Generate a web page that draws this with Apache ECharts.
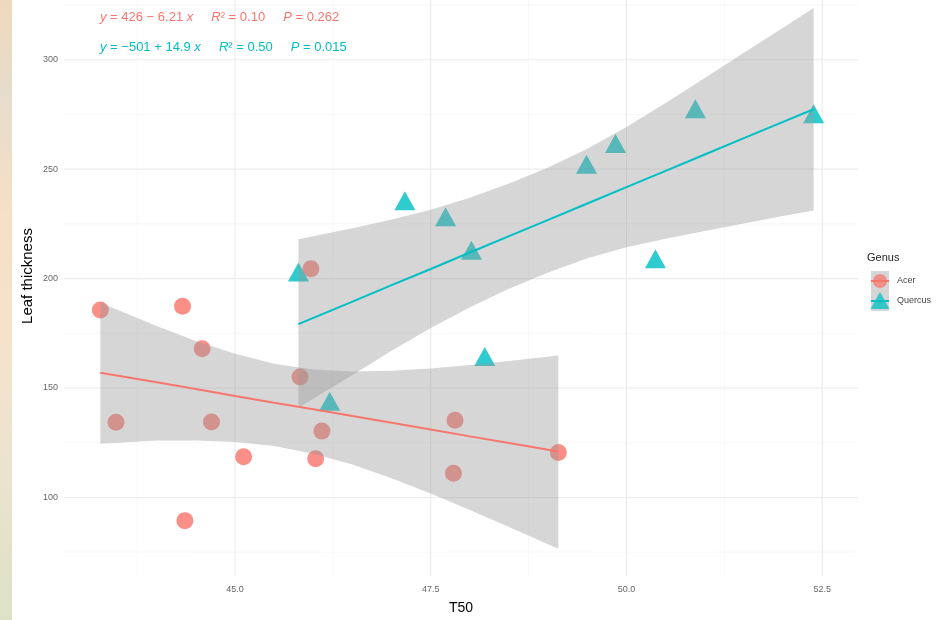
<!DOCTYPE html>
<html>
<head>
<meta charset="utf-8">
<script src="https://cdn.jsdelivr.net/npm/echarts@6/dist/echarts.min.js"></script>
<style>html,body{margin:0;padding:0;background:#fff;}#chart{width:951px;height:620px;}</style>
</head>
<body>
<div id="chart"></div>
<script>
// ---------- data ----------
const acerX = [43.28, 44.33, 44.58, 45.83, 43.48, 44.70, 46.11, 45.11, 46.03, 44.36, 45.97, 47.81, 47.79, 49.13];
const acerY = [185.6, 187.4, 167.9, 155.0, 134.4, 134.5, 130.3, 118.6, 117.7, 89.4, 204.5, 135.3, 111.0, 120.5];
const quercusX = [45.81, 47.17, 47.69, 48.02, 48.19, 46.21, 49.49, 49.86, 50.88, 52.39, 50.37];
const quercusY = [203.0, 235.6, 228.3, 212.9, 164.4, 143.9, 252.3, 261.7, 277.6, 275.3, 209.1];

// fitted lines and 95% confidence ribbons
const acerBandX = [43.28, 44.0, 44.5, 45.0, 45.5, 46.0, 46.5, 47.0, 47.5, 48.0, 48.5, 49.13];
const acerFit   = [157.0, 152.6, 149.5, 146.4, 143.3, 140.3, 137.2, 134.1, 131.0, 127.9, 124.9, 121.0];
const acerLower = [124.5, 126.0, 126.0, 125.3, 123.5, 120.0, 115.0, 108.8, 101.8, 94.3, 86.5, 76.5];
const acerUpper = [189.0, 178.3, 171.5, 165.6, 161.1, 158.5, 157.6, 157.9, 158.9, 160.5, 162.3, 164.9];

const quercusBandX = [45.81, 46.5, 47.0, 47.5, 48.0, 48.5, 49.0, 49.5, 50.0, 50.5, 51.0, 51.5, 52.0, 52.39];
const quercusFit   = [179.2, 189.5, 197.0, 204.4, 211.9, 219.4, 226.8, 234.3, 241.8, 249.2, 256.7, 264.2, 271.6, 277.4];
const quercusLower = [141.0, 156.0, 167.0, 177.4, 186.9, 195.4, 202.8, 209.3, 214.3, 218.2, 221.7, 225.2, 228.6, 231.1];
const quercusUpper = [218.0, 223.0, 227.0, 231.4, 236.9, 243.4, 250.8, 259.3, 269.3, 280.2, 291.7, 303.2, 314.6, 323.7];

const xTicks = [45, 47.5, 50, 52.5];
const xMinorTicks = [43.75, 46.25, 48.75, 51.25];
const yTicks = [100, 150, 200, 250, 300];
const yMinorTicks = [75, 125, 175, 225, 275, 325];

const groups = ['Acer', 'Quercus'];
const eqAcer = ['426', '6.21', '0.10', '0.262'];
const eqQuercus = ['501', '14.9', '0.50', '0.015'];

// ---------- chart ----------
const X_MIN = 42.816, X_MAX = 52.957, Y_MIN = 64.1, Y_MAX = 327.3;
const RED = '#F8766D', CYAN = '#00BFC4';
const FONT = '"Liberation Sans", Arial, sans-serif';

const chart = echarts.init(document.getElementById('chart'), null, {renderer: 'canvas'});

function gridSeries(values, isY, major) {
  return {
    type: 'custom', silent: true, z: 0,
    data: values.map(v => isY ? [X_MIN, v] : [v, Y_MIN]),
    renderItem: function (params, api) {
      const cs = params.coordSys;
      const p = api.coord([api.value(0), api.value(1)]);
      const shape = isY ? {x1: cs.x, y1: p[1], x2: cs.x + cs.width, y2: p[1]}
                        : {x1: p[0], y1: cs.y, x2: p[0], y2: cs.y + cs.height};
      return {type: 'line', shape: shape,
        style: {stroke: major ? '#EBEBEB' : '#F3F3F3', lineWidth: major ? 1.1 : 0.6}};
    }
  };
}

function ribbonSeries(xs, lo, up) {
  const data = xs.map((x, i) => [x, lo[i], up[i]]);
  return {
    type: 'custom', silent: true, z: 2,
    data: data,
    encode: {x: 0, y: [1, 2]},
    renderItem: function (params, api) {
      if (params.dataIndex !== 0) return null;
      const pts = [];
      for (let i = 0; i < data.length; i++) pts.push(api.coord([data[i][0], data[i][1]]));
      for (let i = data.length - 1; i >= 0; i--) pts.push(api.coord([data[i][0], data[i][2]]));
      return {type: 'polygon', shape: {points: pts}, style: {fill: 'rgba(153,153,153,0.4)'}};
    }
  };
}

const eqRich = function (color) {
  return {
    n: {fill: color, font: '13px ' + FONT},
    i: {fill: color, font: 'italic 13px ' + FONT}
  };
};

const option = {
  backgroundColor: '#ffffff',
  animation: false,
  grid: {left: 64, right: 93, top: 0, bottom: 41, containLabel: false},
  xAxis: {
    type: 'value', min: X_MIN, max: X_MAX,
    name: 'T50', nameLocation: 'middle', nameGap: 25,
    nameTextStyle: {fontFamily: FONT, fontSize: 14, color: '#000'},
    axisLine: {show: false}, axisTick: {show: false}, splitLine: {show: false},
    axisLabel: {customValues: xTicks, formatter: v => v.toFixed(1), fontFamily: FONT, fontSize: 9, color: '#666', margin: 9}
  },
  yAxis: {
    type: 'value', min: Y_MIN, max: Y_MAX,
    axisLine: {show: false}, axisTick: {show: false}, splitLine: {show: false},
    axisLabel: {customValues: yTicks, formatter: v => String(v), fontFamily: FONT, fontSize: 9, color: '#666', margin: 6}
  },
  series: [
    gridSeries(yMinorTicks, true, false),
    gridSeries(xMinorTicks, false, false),
    gridSeries(yTicks, true, true),
    gridSeries(xTicks, false, true),
    {
      type: 'scatter', name: groups[0], z: 1, symbol: 'circle', symbolSize: 17,
      data: acerX.map((x, i) => [x, acerY[i]]),
      itemStyle: {color: RED, opacity: 0.82}
    },
    {
      type: 'scatter', name: groups[1], z: 1, symbol: 'triangle', symbolSize: [21, 19],
      data: quercusX.map((x, i) => [x, quercusY[i]]),
      itemStyle: {color: CYAN, opacity: 0.82}
    },
    ribbonSeries(acerBandX, acerLower, acerUpper),
    ribbonSeries(quercusBandX, quercusLower, quercusUpper),
    {
      type: 'line', z: 3, showSymbol: false, symbol: 'none', silent: true,
      data: acerBandX.map((x, i) => [x, acerFit[i]]),
      lineStyle: {color: RED, width: 2}
    },
    {
      type: 'line', z: 3, showSymbol: false, symbol: 'none', silent: true,
      data: quercusBandX.map((x, i) => [x, quercusFit[i]]),
      lineStyle: {color: CYAN, width: 2}
    }
  ],
  graphic: [
    {
      type: 'rect', left: 0, top: 0, z: 100, silent: true,
      shape: {width: 12, height: 620},
      style: {fill: new echarts.graphic.LinearGradient(0, 0, 0, 1, [
        {offset: 0, color: '#EFD9BC'}, {offset: 0.15, color: '#E6DCCB'},
        {offset: 0.35, color: '#F6E0C6'}, {offset: 0.55, color: '#F4E2CB'},
        {offset: 0.75, color: '#ECE3CE'}, {offset: 1, color: '#DDE2C6'}])}
    },
    {
      type: 'text', x: 100, y: 17, z: 100, silent: true,
      style: {
        text: '{i|y}{n| = ' + eqAcer[0] + ' \u2212 ' + eqAcer[1] + ' }{i|x}{n|     }{i|R}{n|\u00B2 = ' + eqAcer[2] + '     }{i|P}{n| = ' + eqAcer[3] + '}',
        verticalAlign: 'middle', rich: eqRich(RED)
      }
    },
    {
      type: 'text', x: 100, y: 47, z: 100, silent: true,
      style: {
        text: '{i|y}{n| = \u2212' + eqQuercus[0] + ' + ' + eqQuercus[1] + ' }{i|x}{n|     }{i|R}{n|\u00B2 = ' + eqQuercus[2] + '     }{i|P}{n| = ' + eqQuercus[3] + '}',
        verticalAlign: 'middle', rich: eqRich(CYAN)
      }
    },
    {
      type: 'text', x: 28, y: 276, rotation: Math.PI / 2, z: 100, silent: true,
      style: {text: 'Leaf thickness', font: '15px ' + FONT, fill: '#000', align: 'center', verticalAlign: 'middle'}
    },
    // legend
    {
      type: 'text', x: 867, y: 258, z: 100, silent: true,
      style: {text: 'Genus', font: '11px ' + FONT, fill: '#222', verticalAlign: 'middle'}
    },
    {type: 'rect', x: 871, y: 271, z: 100, silent: true, shape: {width: 18, height: 20}, style: {fill: '#D6D6D6'}},
    {type: 'rect', x: 871, y: 291, z: 100, silent: true, shape: {width: 18, height: 20}, style: {fill: '#D6D6D6'}},
    {type: 'circle', z: 101, silent: true, shape: {cx: 880, cy: 281, r: 7}, style: {fill: RED, opacity: 0.75}},
    {type: 'line', z: 102, silent: true, shape: {x1: 871, y1: 281, x2: 889, y2: 281}, style: {stroke: RED, lineWidth: 2}},
    {type: 'polygon', z: 101, silent: true, shape: {points: [[880, 292], [889.5, 309], [870.5, 309]]}, style: {fill: CYAN, opacity: 0.75}},
    {type: 'line', z: 102, silent: true, shape: {x1: 871, y1: 301, x2: 889, y2: 301}, style: {stroke: CYAN, lineWidth: 2}},
    {
      type: 'text', x: 897, y: 281, z: 100, silent: true,
      style: {text: groups[0], font: '9px ' + FONT, fill: '#444', verticalAlign: 'middle'}
    },
    {
      type: 'text', x: 897, y: 301, z: 100, silent: true,
      style: {text: groups[1], font: '9px ' + FONT, fill: '#444', verticalAlign: 'middle'}
    }
  ]
};

chart.setOption(option);
</script>
</body>
</html>
